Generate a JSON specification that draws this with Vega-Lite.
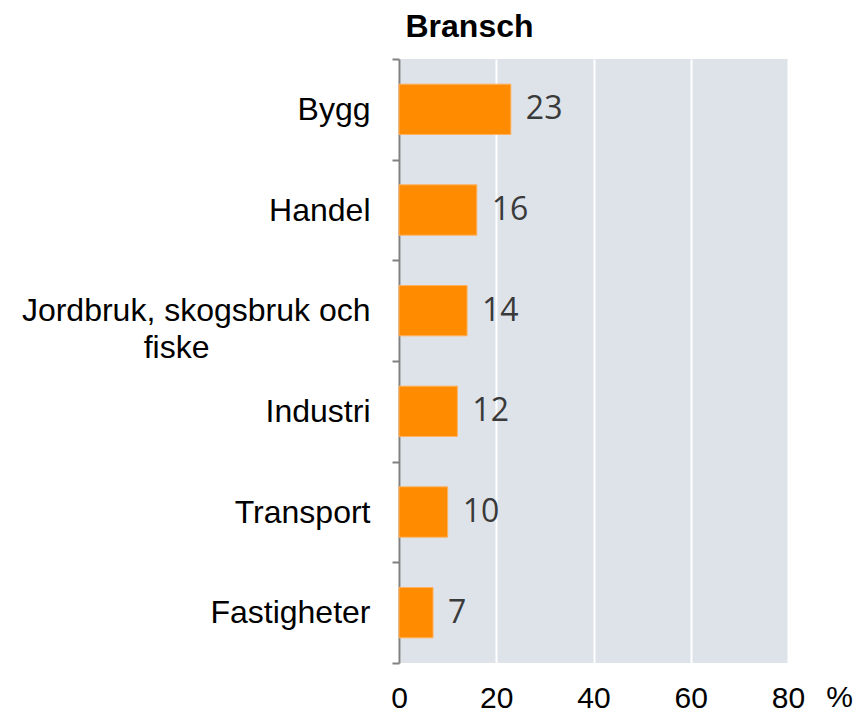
{
  "$schema": "https://vega.github.io/schema/vega-lite/v6.json",
  "width": 389,
  "height": 604,
  "autosize": {"type": "none"},
  "padding": {"left": 399, "top": 59, "right": 70, "bottom": 49},
  "background": "white",
  "config": {
    "view": {"fill": "#dde3e9", "stroke": null}
  },
  "data": {
    "values": [
      {"bransch": "Bygg", "andel": 23},
      {"bransch": "Handel", "andel": 16},
      {"bransch": "Jordbruk, skogsbruk och fiske", "andel": 14},
      {"bransch": "Industri", "andel": 12},
      {"bransch": "Transport", "andel": 10},
      {"bransch": "Fastigheter", "andel": 7}
    ]
  },
  "encoding": {
    "y": {
      "field": "bransch",
      "type": "nominal",
      "sort": null,
      "scale": {"paddingInner": 0, "paddingOuter": 0},
      "axis": {
        "title": "Bransch",
        "titleFont": "Liberation Sans",
        "titleFontSize": 32,
        "titleFontWeight": "bold",
        "titleColor": "#000000",
        "titleAngle": 0,
        "titleAlign": "left",
        "titleBaseline": "alphabetic",
        "titleX": 6,
        "titleY": -23,
        "tickBand": "extent",
        "domainColor": "#808080",
        "domainWidth": 2,
        "tickColor": "#808080",
        "tickWidth": 2,
        "tickSize": 7,
        "grid": false,
        "labelFont": "Liberation Sans",
        "labelFontSize": 32,
        "labelColor": "#000000",
        "labelLimit": 400,
        "labelLineHeight": 37,
        "labelPadding": 22,
        "labelExpr": "datum.label == 'Jordbruk, skogsbruk och fiske' ? ['Jordbruk, skogsbruk och', 'fiske\u2800\u2800\u2800\u2800\u2800\u2800\u2800'] : datum.label"
      }
    },
    "x": {
      "field": "andel",
      "type": "quantitative",
      "scale": {"domain": [0, 80], "nice": false},
      "axis": {
        "values": [0, 20, 40, 60, 80],
        "domain": false,
        "ticks": false,
        "grid": true,
        "gridColor": "#ffffff",
        "gridWidth": 2,
        "labelFont": "Liberation Sans",
        "labelFontSize": 30,
        "labelColor": "#000000",
        "labelPadding": 20,
        "labelFlush": false,
        "title": "%",
        "titleFont": "Liberation Sans",
        "titleFontSize": 30,
        "titleFontWeight": "normal",
        "titleColor": "#000000",
        "titleAnchor": "start",
        "titleAlign": "center",
        "titleBaseline": "alphabetic",
        "titleX": 440,
        "titleY": 43
      }
    }
  },
  "layer": [
    {
      "mark": {"type": "bar", "height": {"band": 0.5}, "color": "#ff8c00", "stroke": "#ffb060", "strokeWidth": 1}
    },
    {
      "mark": {"type": "text", "align": "left", "baseline": "middle", "dx": 15, "font": "Open Sans", "fontSize": 32, "color": "#3a3a3a"},
      "encoding": {"text": {"field": "andel", "type": "quantitative"}}
    }
  ]
}
